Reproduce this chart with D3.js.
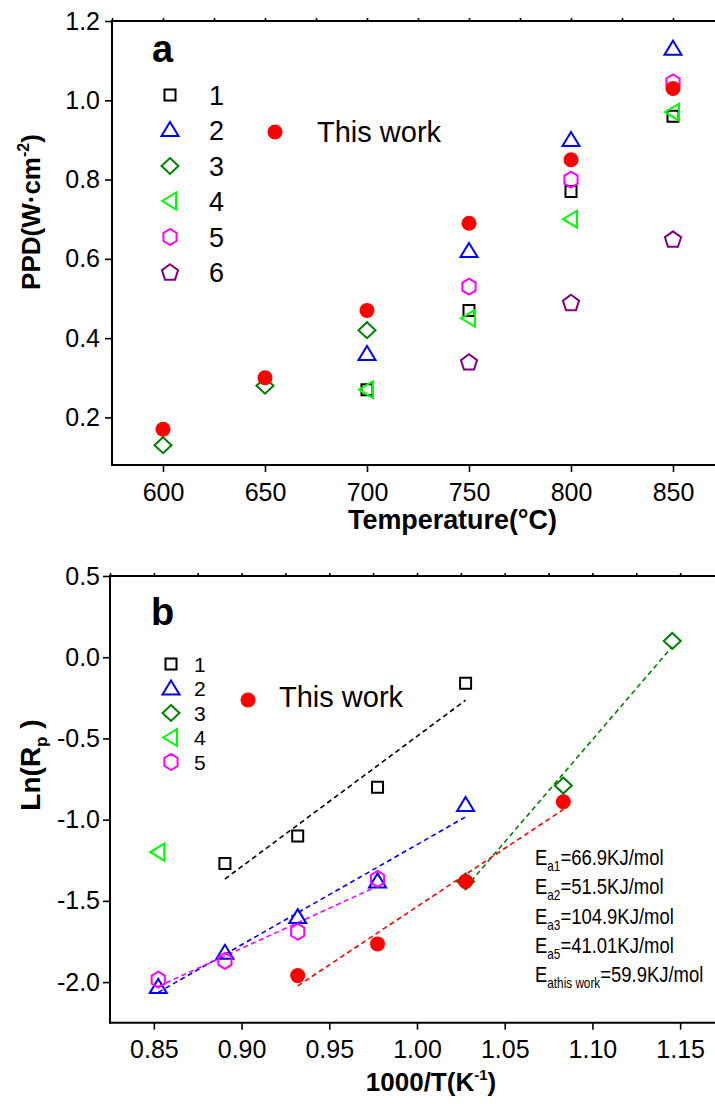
<!DOCTYPE html>
<html>
<head>
<meta charset="utf-8">
<script src="https://cdn.jsdelivr.net/npm/d3@7/dist/d3.min.js"></script>
<style>
  html, body { margin: 0; padding: 0; background: #fff; }
  svg { display: block; font-family: "Liberation Sans", Arial, sans-serif; }
</style>
</head>
<body>
<svg id="chart" width="715" height="1104"></svg>
<script>
// ---------- Panel a: peak power density vs temperature ----------
const tempsA = [600, 650, 700, 750, 800, 850];
const ppd1 = [null, null, 0.27, 0.47, 0.77, 0.96];
const ppd2 = [null, null, 0.36, 0.62, 0.90, 1.13];
const ppd3 = [0.13, 0.28, 0.42, null, null, null];
const ppd4 = [null, null, 0.27, 0.45, 0.70, 0.97];
const ppd5 = [null, null, null, 0.53, 0.80, 1.045];
const ppd6 = [null, null, null, 0.34, 0.49, 0.65];
const ppdThisWork = [0.17, 0.30, 0.47, 0.69, 0.85, 1.03];
const ticksAX = [600, 650, 700, 750, 800, 850];
const ticksAY = [0.2, 0.4, 0.6, 0.8, 1.0, 1.2];

// ---------- Panel b: Arrhenius plot of polarization resistance ----------
const invT = [0.8525, 0.8905, 0.9320, 0.9775, 1.0277, 1.0834, 1.1455];
const lnRp1 = [null, -1.27, -1.10, -0.80, -0.16, null, null];
const lnRp2 = [-2.03, -1.82, -1.60, -1.38, -0.91, null, null];
const lnRp3 = [null, null, null, null, -1.38, -0.79, 0.10];
const lnRp4 = [-1.20, null, null, null, null, null, null];
const lnRp5 = [-1.985, -1.87, -1.69, -1.365, null, null, null];
const lnRpThisWork = [null, null, -1.96, -1.765, -1.38, -0.89, null];
const ticksBX = [0.85, 0.90, 0.95, 1.00, 1.05, 1.10, 1.15];
const ticksBY = [-2.0, -1.5, -1.0, -0.5, 0.0, 0.5];
const eaSubs = ["a1", "a2", "a3", "a5", "athis work"];
const eaValues = ["=66.9KJ/mol", "=51.5KJ/mol", "=104.9KJ/mol", "=41.01KJ/mol", "=59.9KJ/mol"];

const svg = d3.select("#chart");

// marker shapes (centered paths)
function shapePath(kind) {
  const p = d3.path();
  if (kind === "square") {
    const s = 5.5; p.rect(-s, -s, 2 * s, 2 * s);
  } else if (kind === "triangle") {
    p.moveTo(0, -8); p.lineTo(8.5, 6); p.lineTo(-8.5, 6); p.closePath();
  } else if (kind === "diamond") {
    p.moveTo(0, -8); p.lineTo(8.5, 0); p.lineTo(0, 8); p.lineTo(-8.5, 0); p.closePath();
  } else if (kind === "left") {
    p.moveTo(-8, 0); p.lineTo(6, -8.5); p.lineTo(6, 8.5); p.closePath();
  } else if (kind === "hexagon") {
    const r = 8;
    for (let i = 0; i < 6; i++) {
      const a = Math.PI / 2 + i * Math.PI / 3;
      const px = r * Math.cos(a) * 0.95, py = r * Math.sin(a);
      if (i === 0) p.moveTo(px, py); else p.lineTo(px, py);
    }
    p.closePath();
  } else if (kind === "pentagon") {
    const r = 8.5;
    for (let i = 0; i < 5; i++) {
      const a = -Math.PI / 2 + i * 2 * Math.PI / 5;
      const px = r * Math.cos(a), py = r * Math.sin(a) + 0.8;
      if (i === 0) p.moveTo(px, py); else p.lineTo(px, py);
    }
    p.closePath();
  }
  return p.toString();
}

function drawMarker(g, kind, color, cx, cy) {
  if (kind === "circle") {
    g.append("circle").attr("cx", cx).attr("cy", cy).attr("r", 7.5).attr("fill", color);
  } else {
    g.append("path").attr("d", shapePath(kind))
      .attr("transform", `translate(${cx},${cy})`)
      .attr("fill", "none").attr("stroke", color).attr("stroke-width", 2);
  }
}

function drawAxes(x, y, opts) {
  const g = svg.append("g");
  const [x0, x1] = x.range();
  const [yb, yt] = y.range();
  // left axis
  const left = g.append("g").attr("transform", `translate(${x0},0)`);
  left.call(d3.axisLeft(y).tickValues(opts.minorY).tickSize(4).tickFormat(""));
  left.call(d3.axisLeft(y).tickValues(opts.majorY).tickSize(7).tickPadding(opts.padY).tickFormat(opts.fmtY));
  // bottom axis
  const bottom = g.append("g").attr("transform", `translate(0,${yb})`);
  bottom.call(d3.axisBottom(x).tickValues(opts.minorX).tickSize(5).tickFormat(""));
  bottom.call(d3.axisBottom(x).tickValues(opts.majorX).tickSize(7).tickPadding(11).tickFormat(opts.fmtX));
  // top axis
  const top = g.append("g").attr("transform", `translate(0,${yt})`);
  top.call(d3.axisTop(x).tickValues(opts.minorX.concat(opts.majorX)).tickSize(3).tickFormat(""));
  g.selectAll(".domain").remove();
  g.selectAll(".tick line").attr("stroke", "#000").attr("stroke-width", 1.6);
  g.selectAll(".tick text").attr("font-size", 25).attr("fill", "#000")
    .attr("font-family", "'Liberation Sans', Arial, sans-serif");
  // frame lines
  g.append("line").attr("x1", x0).attr("x2", x0).attr("y1", yt - 1).attr("y2", yb + 1)
    .attr("stroke", "#000").attr("stroke-width", 2);
  g.append("line").attr("x1", x0 - 1).attr("x2", x1).attr("y1", yb).attr("y2", yb)
    .attr("stroke", "#000").attr("stroke-width", 2);
  g.append("line").attr("x1", x0 - 1).attr("x2", x1).attr("y1", yt).attr("y2", yt)
    .attr("stroke", "#000").attr("stroke-width", 2);
}

// ================= Panel a =================
const xA = d3.scaleLinear().domain([575, 875]).range([112, 724]);
const yA = d3.scaleLinear().domain([0.08, 1.2]).range([465, 21]);

drawAxes(xA, yA, {
  majorY: ticksAY, minorY: [0.1, 0.3, 0.5, 0.7, 0.9, 1.1],
  majorX: ticksAX, minorX: [575, 625, 675, 725, 775, 825, 875],
  fmtY: d3.format(".1f"), fmtX: d3.format("d"), padY: 5
});

const seriesA = [
  { vals: ppd1, kind: "square", color: "#000000" },
  { vals: ppd2, kind: "triangle", color: "#0000FF" },
  { vals: ppd3, kind: "diamond", color: "#008000" },
  { vals: ppd4, kind: "left", color: "#00FF00" },
  { vals: ppd5, kind: "hexagon", color: "#FF00FF" },
  { vals: ppd6, kind: "pentagon", color: "#800080" },
  { vals: ppdThisWork, kind: "circle", color: "#FF0000" }
];
const gA = svg.append("g");
seriesA.forEach(s => {
  s.vals.forEach((v, i) => {
    if (v !== null) drawMarker(gA, s.kind, s.color, xA(tempsA[i]), yA(v));
  });
});

// legend a
svg.append("text").attr("x", 152).attr("y", 62).attr("font-size", 38).attr("font-weight", "bold").text("a");
const legA = svg.append("g");
const legAY = [95, 130, 166, 201, 237, 272];
seriesA.slice(0, 6).forEach((s, i) => {
  drawMarker(legA, s.kind, s.color, 170, legAY[i]);
  legA.append("text").attr("x", 209).attr("y", legAY[i] + 10).attr("font-size", 27).text(String(i + 1));
});
drawMarker(legA, "circle", "#FF0000", 275, 132);
legA.append("text").attr("x", 317).attr("y", 142).attr("font-size", 29).text("This work");

// axis titles a
const ytA = svg.append("text").attr("transform", "translate(40,212) rotate(-90)")
  .attr("text-anchor", "middle").attr("font-size", 26).attr("font-weight", "bold");
ytA.append("tspan").text("PPD(W·cm");
ytA.append("tspan").attr("font-size", 16).attr("dy", -11).text("-2");
ytA.append("tspan").attr("dy", 11).text(")");
svg.append("text").attr("x", 348).attr("y", 529)
  .attr("font-size", 27).attr("font-weight", "bold")
  .attr("textLength", 209).attr("lengthAdjust", "spacingAndGlyphs")
  .text("Temperature(°C)");

// ================= Panel b =================
const xB = d3.scaleLinear().domain([0.825, 1.175]).range([110, 724]);
const yB = d3.scaleLinear().domain([-2.25, 0.5]).range([1022.7, 576]);

drawAxes(xB, yB, {
  majorY: ticksBY, minorY: [-2.25, -1.75, -1.25, -0.75, -0.25, 0.25],
  majorX: ticksBX, minorX: [0.825, 0.875, 0.925, 0.975, 1.025, 1.075, 1.125, 1.175],
  fmtY: d3.format(".1f"), fmtX: d3.format(".2f"), padY: 3
});
// hyphen-style minus on tick labels
svg.selectAll(".tick text").each(function () {
  const t = d3.select(this); t.text(t.text().replace("\u2212", "-"));
});

const seriesB = [
  { vals: lnRp1, kind: "square", color: "#000000", fit: true },
  { vals: lnRp2, kind: "triangle", color: "#0000FF", fit: true },
  { vals: lnRp3, kind: "diamond", color: "#008000", fit: true },
  { vals: lnRp4, kind: "left", color: "#00FF00", fit: false },
  { vals: lnRp5, kind: "hexagon", color: "#FF00FF", fit: true },
  { vals: lnRpThisWork, kind: "circle", color: "#FF0000", fit: true }
];

// least-squares fit lines over each series' own range
const gFit = svg.append("g");
seriesB.forEach(s => {
  if (!s.fit) return;
  const pts = s.vals.map((v, i) => [invT[i], v]).filter(d => d[1] !== null);
  const mx = d3.mean(pts, d => d[0]), my = d3.mean(pts, d => d[1]);
  const sxy = d3.sum(pts, d => (d[0] - mx) * (d[1] - my));
  const sxx = d3.sum(pts, d => (d[0] - mx) ** 2);
  const k = sxy / sxx;
  const xa = d3.min(pts, d => d[0]), xb = d3.max(pts, d => d[0]);
  gFit.append("line")
    .attr("x1", xB(xa)).attr("y1", yB(my + k * (xa - mx)))
    .attr("x2", xB(xb)).attr("y2", yB(my + k * (xb - mx)))
    .attr("stroke", s.color).attr("stroke-width", 1.6).attr("stroke-dasharray", "5,3.5");
});

const gB = svg.append("g");
seriesB.forEach(s => {
  s.vals.forEach((v, i) => {
    if (v !== null) drawMarker(gB, s.kind, s.color, xB(invT[i]), yB(v));
  });
});

// legend b
svg.append("text").attr("x", 151).attr("y", 625).attr("font-size", 38).attr("font-weight", "bold").text("b");
const legB = svg.append("g");
const legBY = [664, 688.5, 713, 737.5, 762];
seriesB.slice(0, 5).forEach((s, i) => {
  drawMarker(legB, s.kind, s.color, 171, legBY[i]);
  legB.append("text").attr("x", 194).attr("y", legBY[i] + 7.5).attr("font-size", 21).text(String(i + 1));
});
drawMarker(legB, "circle", "#FF0000", 248, 700);
legB.append("text").attr("x", 279).attr("y", 707).attr("font-size", 29).text("This work");

// activation energies, set in a horizontally condensed block
const eaY = [865, 894.3, 923.6, 952.9, 982.5];
const eaBlock = svg.append("g").attr("transform", "translate(535,0) scale(0.84,1)");
eaSubs.forEach((sub, i) => {
  const t = eaBlock.append("text").attr("x", 0).attr("y", eaY[i]).attr("font-size", 22);
  t.append("tspan").text("E");
  t.append("tspan").attr("font-size", 14).attr("dy", 6).text(sub);
  t.append("tspan").attr("dy", -6).text(eaValues[i]);
});

// axis titles b
const ytB = svg.append("text").attr("transform", "translate(40,765) rotate(-90)")
  .attr("text-anchor", "middle").attr("font-size", 28).attr("font-weight", "bold");
ytB.append("tspan").text("Ln(R");
ytB.append("tspan").attr("font-size", 17).attr("dy", 7).text("p");
ytB.append("tspan").attr("dy", -7).text(" )");
const xtB = svg.append("text").attr("x", 431).attr("y", 1091).attr("text-anchor", "middle")
  .attr("font-size", 26).attr("font-weight", "bold");
xtB.append("tspan").text("1000/T(K");
xtB.append("tspan").attr("font-size", 15).attr("dy", -11).text("-1");
xtB.append("tspan").attr("dy", 11).text(")");
</script>
</body>
</html>
